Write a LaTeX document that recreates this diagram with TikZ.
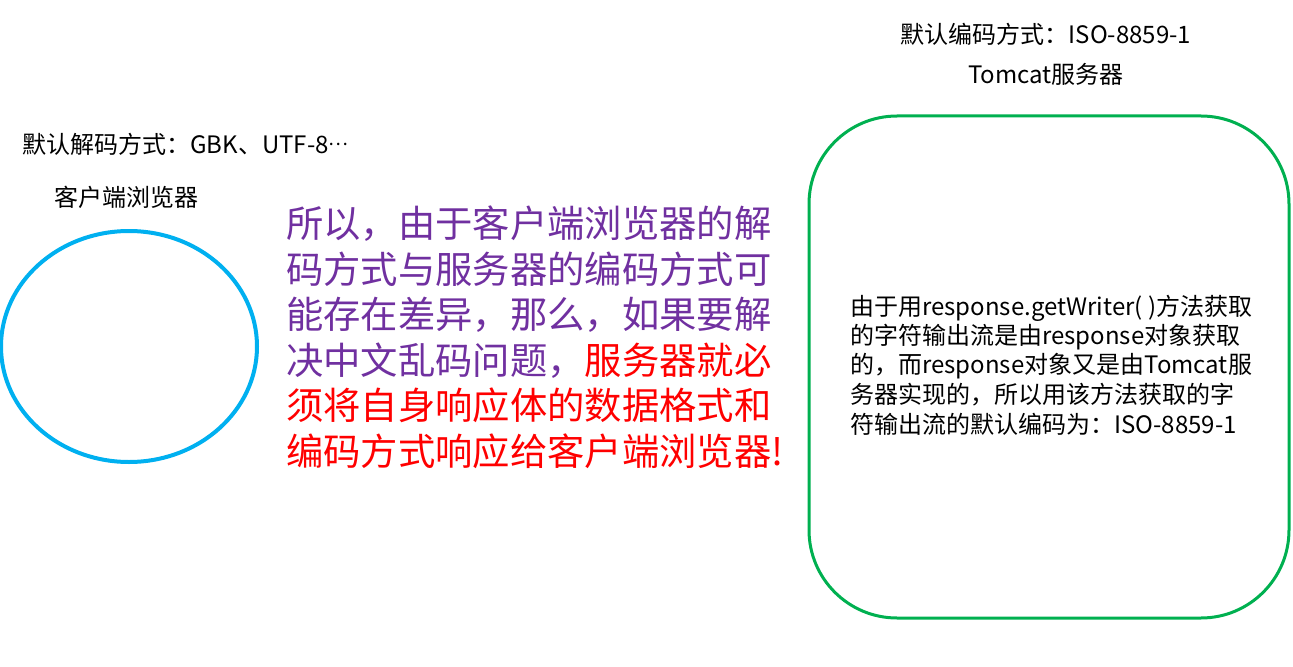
\documentclass[tikz,border=0pt]{standalone}
\usepackage{fontspec}
\setmainfont{Noto Sans CJK SC}
\definecolor{ellblue}{HTML}{00B0F0}
\definecolor{boxgreen}{HTML}{00B050}
\definecolor{txtpurple}{HTML}{7030A0}
\definecolor{txtred}{HTML}{FF0000}
\begin{document}
\begin{tikzpicture}[x=0.75pt,y=-0.75pt,
  lbl/.style={inner sep=0pt,font=\fontsize{18pt}{21pt}\selectfont},
  big/.style={inner sep=0pt,anchor=west,font=\fontsize{28pt}{34pt}\selectfont,text=txtpurple},
  boxtxt/.style={inner sep=0pt,anchor=west,font=\fontsize{18pt}{21.75pt}\selectfont}]
\useasboundingbox (0,0) rectangle (1293,667);
% client ellipse
\draw[ellblue,line width=3pt] (129,346.5) ellipse [x radius=128, y radius=115.5];
% server box
\draw[boxgreen,line width=2.25pt,rounded corners=66pt] (809,116) rectangle (1289,618);
% labels
\node[lbl,anchor=west] (clientenc) at (22,144) {默认解码方式：GBK、UTF-8\raisebox{0.3em}{\fontsize{14pt}{14pt}\selectfont…}};
\node[lbl] (client) at (127,197) {客户端浏览器};
\node[lbl] (serverenc) at (1046,34) {默认编码方式：ISO-8859-1};
\node[lbl] (server) at (1046,74) {Tomcat服务器};
% middle text
\node[big] (m1) at (286,224) {所以，由于客户端浏览器的解};
\node[big] (m2) at (286,269.4) {码方式与服务器的编码方式可};
\node[big] (m3) at (286,314.8) {能存在差异，那么，如果要解};
\node[big] (m4) at (286,360.2) {决中文乱码问题，\textcolor{txtred}{服务器就必}};
\node[big,text=txtred] (m5) at (286,405.6) {须将自身响应体的数据格式和};
\node[big,text=txtred] (m6) at (286,451) {编码方式响应给客户端浏览器!};
% box text
\node[boxtxt] (b1) at (850,308) {由于用response.getWriter( )方法获取};
\node[boxtxt] (b2) at (850,337) {的字符输出流是由response对象获取};
\node[boxtxt] (b3) at (850,366) {的，而response对象又是由Tomcat服};
\node[boxtxt] (b4) at (850,395) {务器实现的，所以用该方法获取的字};
\node[boxtxt] (b5) at (850,424) {符输出流的默认编码为：ISO-8859-1};
\end{tikzpicture}
\end{document}
